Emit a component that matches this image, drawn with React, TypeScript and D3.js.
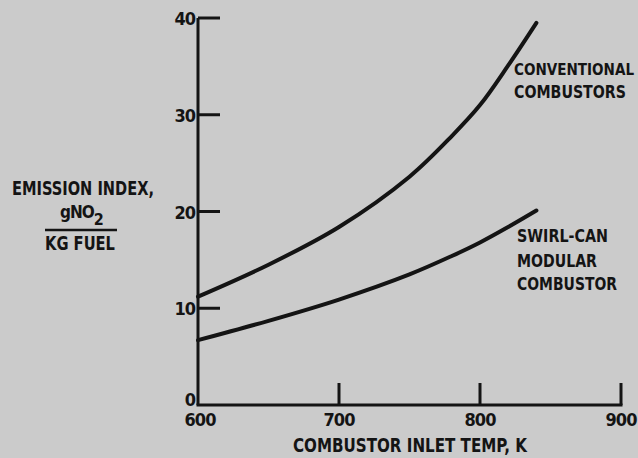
import React from "react";
import * as d3 from "d3";

const W = 638;
const H = 458;

// combustor inlet temp (K) vs emission index (g NO2 / kg fuel)
const temps = [600, 650, 700, 750, 780, 800, 820, 840];
const conventional = [11.2, 14.5, 18.4, 23.6, 27.8, 31.0, 35.1, 39.5];
const swirlCan = [6.7, 8.7, 10.9, 13.5, 15.4, 16.8, 18.4, 20.1];

const xTicks = [600, 700, 800, 900];
const yTicks = [0, 10, 20, 30, 40];

const ink = "#141414";
const bg = "#cbcbcb";
const font = "'DejaVu Sans Condensed', 'Liberation Sans Narrow', 'Liberation Sans', sans-serif";

export default function App() {
  const x = d3.scaleLinear().domain([600, 900]).range([198, 621]);
  const y = d3.scaleLinear().domain([0, 40]).range([405, 18]);

  const line = d3
    .line<number>()
    .x((_, i) => x(temps[i]))
    .y((d) => y(d))
    .curve(d3.curveCatmullRom.alpha(0.5));

  const txt = {
    fontFamily: font,
    fontWeight: 700,
    fill: ink,
  } as const;

  return (
    <div style={{ position: "absolute", left: 0, top: 0 }}>
      <svg width={W} height={H} style={{ display: "block" }}>
        <rect width={W} height={H} fill={bg} />

        {/* axes */}
        <line x1={x(600)} x2={x(600)} y1={y(40)} y2={y(0)} stroke={ink} strokeWidth={3} />
        <line x1={x(600) - 1.5} x2={x(900) + 1.5} y1={y(0)} y2={y(0)} stroke={ink} strokeWidth={3} />

        {yTicks.map((t) => (
          <g key={"y" + t}>
            {t > 0 && (
              <line x1={x(600)} x2={x(600) + 22} y1={y(t)} y2={y(t)} stroke={ink} strokeWidth={3} />
            )}
            <text
              {...txt}
              x={x(600) - 3}
              y={y(t) + (t === 0 ? 1 : 7)}
              textAnchor="end"
              fontSize={18}
              letterSpacing={-1}
            >
              {t}
            </text>
          </g>
        ))}

        {xTicks.map((t) => (
          <g key={"x" + t}>
            {t > 600 && (
              <line x1={x(t)} x2={x(t)} y1={y(0)} y2={y(0) - 22} stroke={ink} strokeWidth={3} />
            )}
            <text
              {...txt}
              x={x(t) + (t === 600 ? 2 : 0)}
              y={426}
              textAnchor="middle"
              fontSize={18}
              letterSpacing={-1}
            >
              {t}
            </text>
          </g>
        ))}

        {/* curves */}
        <path d={line(conventional) || ""} fill="none" stroke={ink} strokeWidth={4} strokeLinecap="round" />
        <path d={line(swirlCan) || ""} fill="none" stroke={ink} strokeWidth={4} strokeLinecap="round" />

        {/* axis titles */}
        <text {...txt} x={293} y={452} fontSize={20} textLength={234} lengthAdjust="spacingAndGlyphs">
          COMBUSTOR INLET TEMP, K
        </text>

        <text {...txt} x={12} y={195} fontSize={20} textLength={142} lengthAdjust="spacingAndGlyphs">
          EMISSION INDEX,
        </text>
        <text {...txt} x={60} y={218} fontSize={17} letterSpacing={-1}>
          gNO
          <tspan dy={7} fontSize={16}>
            2
          </tspan>
        </text>
        <line x1={45} x2={117} y1={230} y2={230} stroke={ink} strokeWidth={2.5} />
        <text {...txt} x={45} y={250} fontSize={19} textLength={70} lengthAdjust="spacingAndGlyphs">
          KG FUEL
        </text>

        {/* series labels */}
        <text {...txt} x={514} y={75} fontSize={15} textLength={120} lengthAdjust="spacingAndGlyphs">
          CONVENTIONAL
        </text>
        <text {...txt} x={514} y={98} fontSize={17} textLength={112} lengthAdjust="spacingAndGlyphs">
          COMBUSTORS
        </text>
        <text {...txt} x={517} y={242} fontSize={18} textLength={91} lengthAdjust="spacingAndGlyphs">
          SWIRL-CAN
        </text>
        <text {...txt} x={517} y={267} fontSize={18} textLength={80} lengthAdjust="spacingAndGlyphs">
          MODULAR
        </text>
        <text {...txt} x={517} y={290} fontSize={18} textLength={100} lengthAdjust="spacingAndGlyphs">
          COMBUSTOR
        </text>
      </svg>
    </div>
  );
}
